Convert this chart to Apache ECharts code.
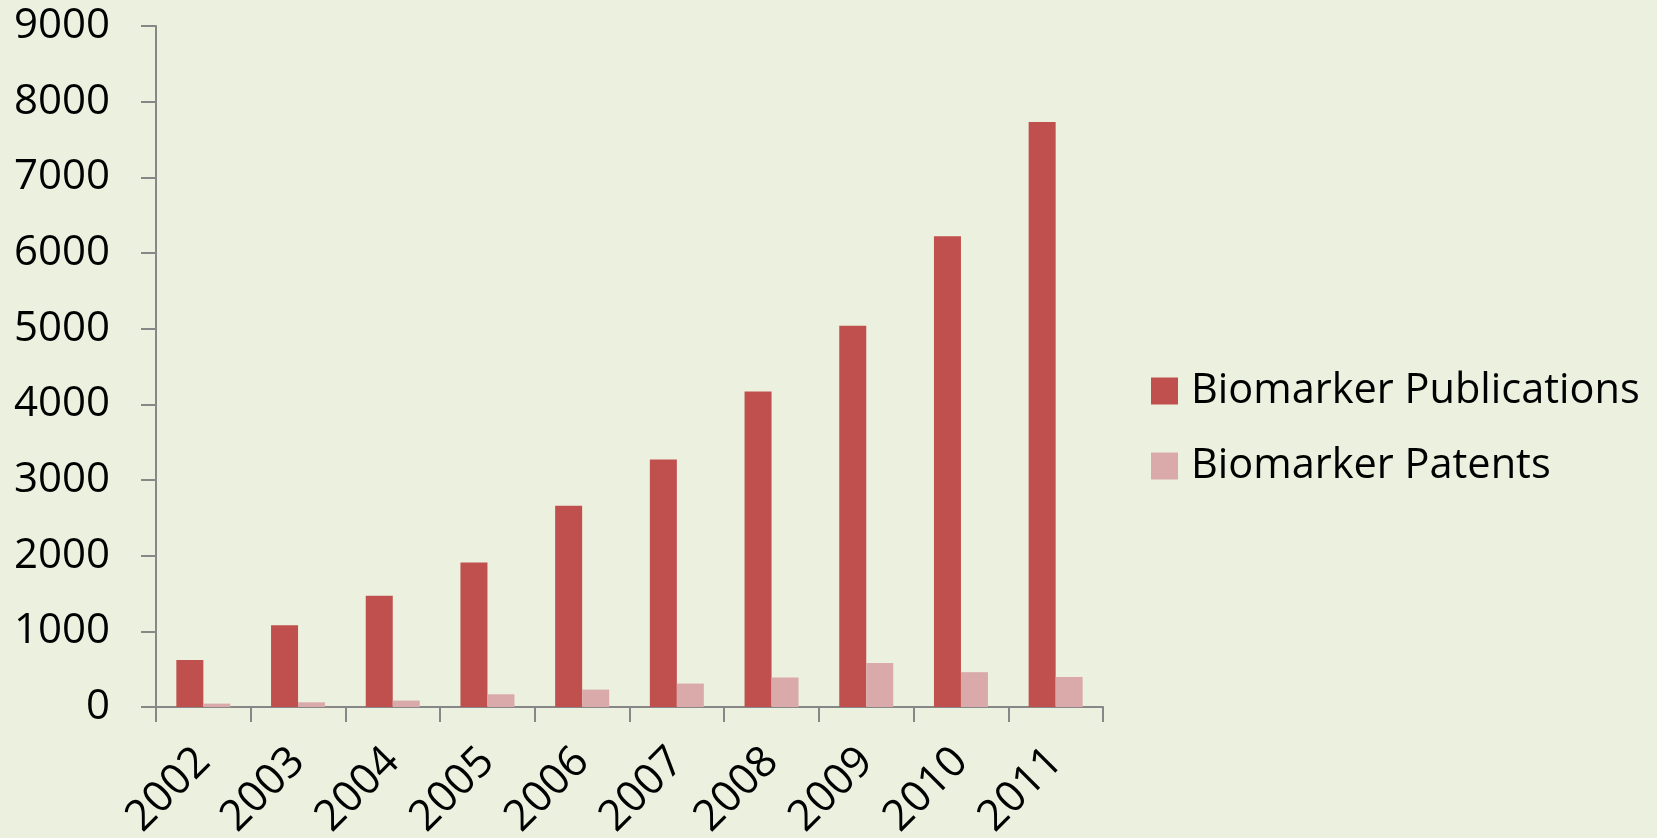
<!DOCTYPE html>
<html>
<head>
<meta charset="utf-8">
<script src="https://cdn.jsdelivr.net/npm/echarts@6/dist/echarts.min.js"></script>
<style>
html,body{margin:0;padding:0;background:#ECF0DF;}
#chart{width:1657px;height:838px;}
</style>
</head>
<body>
<div id="chart"></div>
<script>
var years = ['2002','2003','2004','2005','2006','2007','2008','2009','2010','2011'];
var publications = [620, 1080, 1470, 1910, 2660, 3270, 4170, 5040, 6220, 7730];
var patents = [45, 62, 85, 168, 230, 310, 390, 583, 460, 397];
var seriesNames = ['Biomarker Publications', 'Biomarker Patents'];

var chart = echarts.init(document.getElementById('chart'));
var fontFam = '"Open Sans", "Noto Sans", sans-serif';
chart.setOption({
  backgroundColor: '#ECF0DF',
  animation: false,
  grid: {left: 156, right: 554, top: 26, bottom: 131, containLabel: false, outerBoundsMode: 'none'},
  legend: {
    orient: 'vertical',
    left: 1146,
    top: 365,
    itemWidth: 27,
    itemHeight: 27,
    itemGap: 33,
    icon: 'rect',
    textStyle: {fontFamily: fontFam, fontSize: 41.5, color: '#000', padding: [0,0,0,8]},
    data: seriesNames
  },
  xAxis: {
    type: 'category',
    data: years,
    axisLine: {lineStyle: {color: '#878787', width: 2}},
    axisTick: {show: true, length: 15, lineStyle: {color: '#878787', width: 2}},
    axisLabel: {rotate: 45, margin: 48, color: '#000', fontFamily: fontFam, fontSize: 43}
  },
  yAxis: {
    type: 'value',
    min: 0,
    max: 9000,
    interval: 1000,
    splitLine: {show: false},
    axisLine: {show: true, lineStyle: {color: '#878787', width: 2}},
    axisTick: {show: true, length: 15, lineStyle: {color: '#878787', width: 2}},
    axisLabel: {margin: 46, color: '#000', fontFamily: fontFam, fontSize: 42,
      formatter: function (v) { return String(v); }}
  },
  series: [
    {name: seriesNames[0], type: 'bar', data: publications, barWidth: 27, barGap: '0%',
     itemStyle: {color: '#C0504D'}},
    {name: seriesNames[1], type: 'bar', data: patents, barWidth: 27, barGap: '0%',
     itemStyle: {color: '#DAAAAA'}}
  ]
});
</script>
</body>
</html>
